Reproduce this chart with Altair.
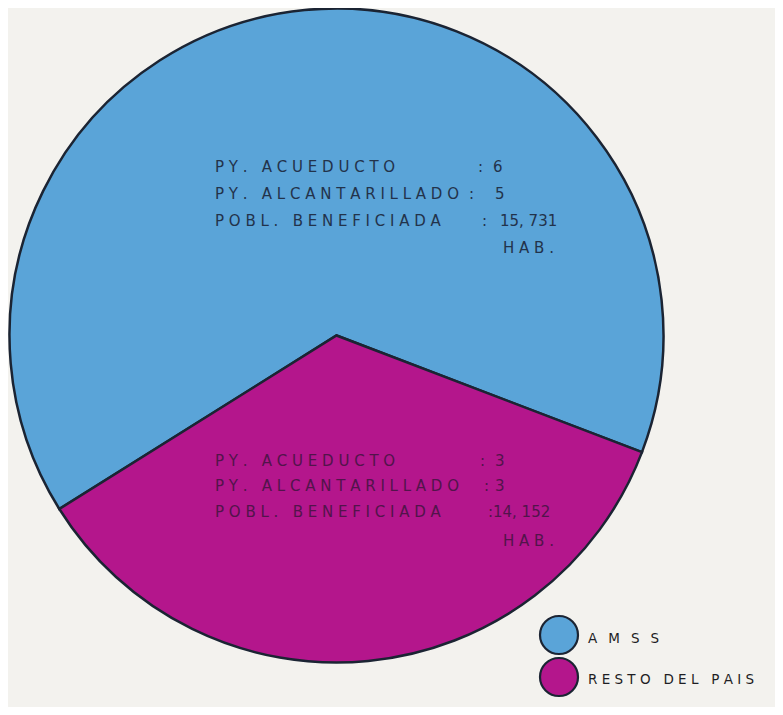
import math
import altair as alt
import pandas as pd

# ---- data ----
categories = ["AMSS", "RESTO DEL PAIS"]
py_acueducto = [6, 3]
py_alcantarillado = [5, 3]
poblacion = [15731, 14152]
row_labels = ["PY. ACUEDUCTO", "PY. ALCANTARILLADO", "POBL. BENEFICIADA"]
unit_label = "HAB."

# ---- styling ----
colors = ["#5aa4d8", "#b4168c"]
text_colors = ["#1e2a40", "#4a1446"]
outline = "#1b2433"
bg = "#f3f2ee"

NB = "\u00a0"


def spaced(s, sep=NB):
    return sep.join(ch if ch != " " else NB for ch in s)


# pie: number of projects per region
pie = pd.DataFrame({
    "region": categories,
    "proyectos": [a + b for a, b in zip(py_acueducto, py_alcantarillado)],
    "ord": [1, 0],
})

start = math.radians(110.9)
W, H = 767, 699
cx, cy, R = 328.5, 327.5, 327

arc = alt.Chart(pie).mark_arc(radius=R, stroke=outline, strokeWidth=2.5).encode(
    theta=alt.Theta("proyectos:Q", stack=True,
                    scale=alt.Scale(range=[start, start + 2 * math.pi])),
    color=alt.Color("region:N", scale=alt.Scale(domain=categories, range=colors), legend=None),
    order=alt.Order("ord:Q"),
    x=alt.value(cx),
    y=alt.value(cy),
)

# ---- annotation layout (pixel positions) ----
label_x = 207
blocks = {
    "AMSS": {"ys": [164, 191, 218, 245], "colon_x": [470, 461, 474], "val_x": [485, 487, 492]},
    "RESTO DEL PAIS": {"ys": [458, 483, 509, 538], "colon_x": [472, 476, 480], "val_x": [487, 487, 485]},
}
hab_x = 495

text_layers = []
for i, cat in enumerate(categories):
    b = blocks[cat]
    vals = [str(py_acueducto[i]), str(py_alcantarillado[i]),
            f"{poblacion[i]:,}".replace(",", "," + NB)]
    rows = []
    for j, lab in enumerate(row_labels):
        rows.append({"t": spaced(lab), "x": label_x, "y": b["ys"][j]})
        rows.append({"t": ":", "x": b["colon_x"][j], "y": b["ys"][j]})
        rows.append({"t": vals[j], "x": b["val_x"][j], "y": b["ys"][j]})
    rows.append({"t": spaced(unit_label), "x": hab_x, "y": b["ys"][3]})
    text_layers.append(
        alt.Chart(pd.DataFrame(rows)).mark_text(
            align="left", baseline="alphabetic", font="DejaVu Sans", fontSize=15,
            color=text_colors[i], opacity=0.92,
        ).encode(
            x=alt.X("x:Q", scale=None),
            y=alt.Y("y:Q", scale=None),
            text="t:N",
        )
    )

# ---- manual legend ----
leg = pd.DataFrame({
    "region": categories,
    "lx": [551, 551],
    "ly": [627, 669],
    "tx": [580, 580],
    "ty": [635, 676],
    "lab": [spaced("AMSS", "\u2002" + NB), spaced("RESTO DEL PAIS", NB)],
})

leg_sym = alt.Chart(leg).mark_point(
    shape="circle", size=1444, filled=True, stroke=outline, strokeWidth=2.2, opacity=1
).encode(
    x=alt.X("lx:Q", scale=None),
    y=alt.Y("ly:Q", scale=None),
    fill=alt.Fill("region:N", scale=alt.Scale(domain=categories, range=colors), legend=None),
)

leg_txt = alt.Chart(leg).mark_text(
    align="left", baseline="alphabetic", font="DejaVu Sans", fontSize=13.5, color="#1e1e24"
).encode(
    x=alt.X("tx:Q", scale=None),
    y=alt.Y("ty:Q", scale=None),
    text="lab:N",
)

chart = alt.layer(arc, *text_layers, leg_sym, leg_txt).properties(
    width=W, height=H, autosize="none", padding=0, background=bg
).configure_view(stroke=None)

chart.save("out.html", embed_options={"renderer": "svg", "actions": False})
